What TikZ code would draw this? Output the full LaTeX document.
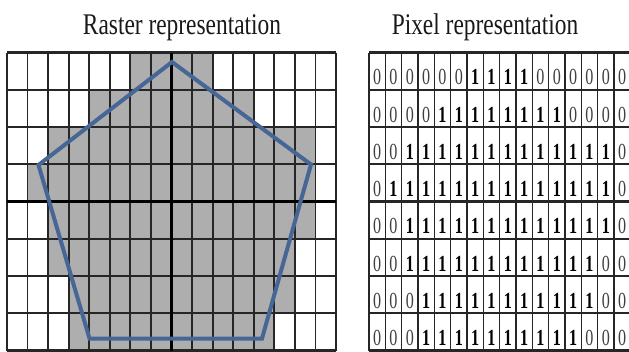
\documentclass[tikz,border=0pt]{standalone}
\usepackage{fontspec}
\setmainfont{Liberation Serif}
\newfontfamily\titlefont[FakeStretch=0.78]{Liberation Serif}
\newfontfamily\digitfont[FakeStretch=0.7]{Liberation Serif}
\definecolor{cellgray}{RGB}{174,174,174}
\definecolor{penblue}{RGB}{70,102,150}
\begin{document}
\begin{tikzpicture}[x=1pt,y=-1pt,
  gridv/.style={line width=1.8pt,black!85},
  gridh/.style={line width=2.3pt,black!85},
  pixv/.style={line width=1.5pt,black!85},
  pixh/.style={line width=2.4pt,black!85},
  titletext/.style={font=\titlefont\fontsize{30}{30}\selectfont,inner sep=0pt,anchor=base,text=black!90},
  onedigit/.style={font=\digitfont\bfseries\fontsize{23}{23}\selectfont,inner sep=0pt,anchor=base,text=black},
  zerodigit/.style={font=\digitfont\fontsize{23}{23}\selectfont,inner sep=0pt,anchor=base,text=black!75},
  pent/.style={draw=penblue,line width=4pt,line join=miter}]
\useasboundingbox (0,0) rectangle (629,351);
\fill[white] (0,0) rectangle (629,351);
% titles
\node[titletext] (t1) at (182,34) {Raster representation};
\node[titletext] (t2) at (485,34) {Pixel representation};
% left raster: gray cells
\foreach \r/\a/\b in {0/6/9,1/4/11,2/2/14,3/1/14,4/2/14,5/2/13,6/3/13,7/3/12}
  \fill[cellgray] ({7+\a*20.5625},{52.5+\r*37.25}) rectangle ({7+(\b+1)*20.5625},{52.5+(\r+1)*37.25});
% left grid lines
\foreach \i in {0,...,16}
  \draw[gridv] ({7+\i*20.5625},52.5) -- ({7+\i*20.5625},351);
\foreach \j in {0,...,8}
  \draw[gridh] (7,{52.5+\j*37.25}) -- (336,{52.5+\j*37.25});
\draw[line width=3.8pt] (7,201.5) -- (336,201.5);
\draw[line width=3pt] (171.5,52.5) -- (171.5,351);
% pentagon
\coordinate (p1) at (172,62);
\coordinate (p2) at (311,164.5);
\coordinate (p3) at (262,338.5);
\coordinate (p4) at (89.5,338.5);
\coordinate (p5) at (38.5,165);
\draw[pent] (p1) -- (p2) -- (p3) -- (p4) -- (p5) -- cycle;
% right pixel grid
\foreach \r/\a/\b in {0/6/9,1/4/11,2/2/14,3/1/14,4/2/14,5/2/13,6/3/13,7/3/12}{
  \foreach \c in {0,...,15}{
    \pgfmathtruncatemacro{\v}{and(\c>=\a,\c<=\b)}
    \ifnum\v=1
      \node[onedigit] (d-\r-\c) at ({369+(\c+0.5)*16.33},{52.5+(\r+1)*37.25-5}) {1};
    \else
      \node[zerodigit] (d-\r-\c) at ({369+(\c+0.5)*16.33},{52.5+(\r+1)*37.25-5}) {0};
    \fi
  }
}
\foreach \i in {0,...,16}
  \draw[pixv] ({369+\i*16.33},52.5) -- ({369+\i*16.33},351);
\foreach \j in {0,...,8}
  \draw[pixh] (369,{52.5+\j*37.25}) -- (631,{52.5+\j*37.25});
\end{tikzpicture}
\end{document}
